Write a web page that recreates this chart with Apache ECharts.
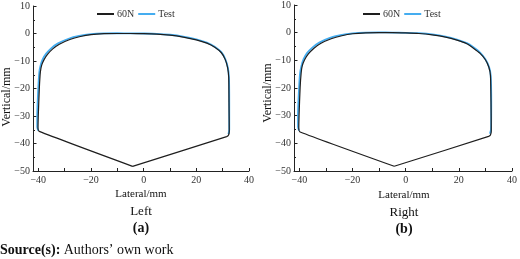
<!DOCTYPE html>
<html>
<head>
<meta charset="utf-8">
<script src="https://cdn.jsdelivr.net/npm/echarts@6/dist/echarts.min.js"></script>
<style>
  html, body { margin: 0; padding: 0; background: #fff; }
</style>
</head>
<body>
<div id="profileChart" style="width: 520px;height: 259px;"></div>
<script>
// profile points (lateral / vertical, mm)
const leftBaseX = [-4.2, -39.6, -40.1, -40.0, -39.6, -39.2, -38.7, -37.8, -36.5, -34.5, -32, -28, -24, -20, -15, -10, -5, 0, 5, 10, 15, 20, 24, 27, 29.5, 31, 31.9, 32.3, 32.4, 32.5, 32.2, 31.5, -4.2]
const leftBaseY = [-48.3, -35.6, -34.5, -30, -20, -14, -11.5, -9.5, -7.6, -5.6, -3.9, -2.2, -1.1, -0.4, -0.05, 0, 0, -0.05, -0.2, -0.6, -1.3, -2.3, -3.5, -5, -7, -9.5, -12.5, -16, -25, -35.5, -37, -37.5, -48.3]
const leftTestX = [-40.0, -40.4, -40.4, -40.0, -39.6, -39.1, -38.3, -37, -35, -32.5, -28.5, -24.5, -20, -15, -10, -5, 0, 5, 10, 15, 20, 24, 27, 29.5, 31, 32, 32.4, 32.5, 32.5, 32.2]
const leftTestY = [-35.3, -34, -30, -20, -14, -11.5, -9.3, -7.3, -5.3, -3.6, -1.9, -0.9, -0.25, 0.05, 0.1, 0.05, 0, -0.1, -0.45, -1.1, -2.1, -3.3, -4.8, -6.8, -9.3, -12.5, -16, -25, -35, -36.6]

const rightBaseX = [-4.3, -39.7, -40.2, -40.1, -39.7, -39.3, -38.9, -38, -36.6, -34.6, -32, -28, -24, -20, -15, -10, -5, 0, 5, 10, 15, 19.3, 23, 25.5, 28, 30, 31.3, 31.9, 32.1, 32.2, 31.9, 31.2, -4.3]
const rightBaseY = [-48.3, -35.9, -34.8, -30, -20, -14.5, -12, -9.8, -7.7, -5.7, -3.9, -2.2, -1.1, -0.4, -0.05, 0, 0, -0.1, -0.3, -0.8, -1.6, -2.7, -4, -5.6, -7.5, -9.8, -12.5, -15.5, -25, -35.5, -37, -37.5, -48.3]
const rightTestX = [-40.1, -40.5, -40.5, -40.1, -39.7, -39.2, -38.4, -37.1, -35.1, -32.5, -28.5, -24.5, -20, -15, -10, -5, 0, 5, 10, 15, 19.3, 23, 25.5, 28, 30, 31.4, 32, 32.2, 32.1, 31.7]
const rightTestY = [-35.4, -34, -30, -20, -14.5, -12, -9.6, -7.4, -5.4, -3.6, -1.9, -0.9, -0.25, 0.05, 0.1, 0.05, -0.05, -0.2, -0.6, -1.4, -2.5, -3.8, -5.3, -7.2, -9.6, -12.5, -15.5, -25, -35, -36.5]

const xLabelValues = [-40, -20, 0, 20, 40]
const xTickValues = [-40, -30, -20, -10, 0, 10, 20, 30, 40]
const seriesNames = ['60N', 'Test']
const panelNames = ['Left', 'Right']
const panelTags = ['(a)', '(b)']

const serif = '"Liberation Serif", "Times New Roman", serif'
const baseColor = '#1e1e1e'
const testColor = '#45adf0'

function zip(xs, ys) {
  return xs.map((x, i) => [x, ys[i]])
}

function minus(v) {
  return String(v).replace('-', '\u2212')
}

const grids = [
  { left: 33, top: 6, width: 216, height: 165 },
  { left: 294, top: 5, width: 221, height: 166 }
]

function makeXAxis(i) {
  return {
    gridIndex: i,
    type: 'value',
    min: -42,
    max: 40,
    axisLine: { onZero: false, lineStyle: { color: '#222', width: 1 } },
    axisTick: { inside: true, length: 3, customValues: xTickValues, lineStyle: { color: '#222' } },
    axisLabel: {
      customValues: xLabelValues,
      margin: 4,
      color: '#333',
      fontFamily: serif,
      fontSize: 10,
      formatter: minus
    },
    splitLine: { show: false }
  }
}

function makeYAxis(i) {
  return {
    gridIndex: i,
    type: 'value',
    min: -50,
    max: 10,
    interval: 10,
    axisLine: { show: true, onZero: false, lineStyle: { color: '#222', width: 1 } },
    axisTick: { inside: true, length: 3.5, lineStyle: { color: '#222' } },
    minorTick: { show: true, splitNumber: 2, length: 2, lineStyle: { color: '#222' } },
    axisLabel: {
      margin: 3,
      color: '#333',
      fontFamily: serif,
      fontSize: 10,
      formatter: minus
    },
    splitLine: { show: false }
  }
}

function makeSeries(i, baseData, testData) {
  return [
    {
      name: seriesNames[0],
      type: 'line',
      xAxisIndex: i,
      yAxisIndex: i,
      data: baseData,
      symbol: 'none',
      smooth: 0.2,
      color: baseColor,
      lineStyle: { width: 1.2, color: baseColor },
      z: 3
    },
    {
      name: seriesNames[1],
      type: 'line',
      xAxisIndex: i,
      yAxisIndex: i,
      data: testData,
      symbol: 'none',
      smooth: 0.2,
      color: testColor,
      lineStyle: { width: 1.8, color: testColor },
      z: 2
    }
  ]
}

function makeLegend(left) {
  return {
    left: left,
    top: 4,
    data: seriesNames,
    icon: 'rect',
    itemWidth: 17,
    itemHeight: 2,
    itemGap: 4,
    textStyle: { fontFamily: serif, fontSize: 10, color: '#333', padding: [0, 0, 0, -2] }
  }
}

function text(x, y, str, size, bold, rotation) {
  return {
    type: 'text',
    x: x,
    y: y,
    rotation: rotation || 0,
    style: {
      text: str,
      fill: '#111',
      font: (bold ? 'bold ' : '') + size + 'px ' + serif,
      textAlign: 'center',
      textVerticalAlign: 'middle'
    }
  }
}

const centers = [141, 404]

const options = {
  animation: false,
  grid: grids,
  xAxis: [makeXAxis(0), makeXAxis(1)],
  yAxis: [makeYAxis(0), makeYAxis(1)],
  legend: [makeLegend(92), makeLegend(358)],
  series: makeSeries(0, zip(leftBaseX, leftBaseY), zip(leftTestX, leftTestY))
    .concat(makeSeries(1, zip(rightBaseX, rightBaseY), zip(rightTestX, rightTestY))),
  graphic: [
    text(7, 97, 'Vertical/mm', 12, false, Math.PI / 2),
    text(268, 93, 'Vertical/mm', 12, false, Math.PI / 2),
    text(centers[0], 194, 'Lateral/mm', 11),
    text(centers[1], 195, 'Lateral/mm', 11),
    text(centers[0], 212, panelNames[0], 13),
    text(centers[1], 213, panelNames[1], 13),
    text(centers[0], 228, panelTags[0], 14, true),
    text(centers[1], 229, panelTags[1], 14, true),
    {
      type: 'text',
      x: 0,
      y: 250,
      style: {
        rich: {
          b: { font: 'bold 14px ' + serif, fill: '#111' },
          n: { font: '14px ' + serif, fill: '#111' }
        },
        text: '{b|Source(s):} {n|Authors\u2019 own work}',
        textVerticalAlign: 'middle'
      }
    }
  ]
}

const profileChart = echarts.init(document.getElementById('profileChart'))
profileChart.setOption(options, true)
</script>
</body>
</html>
